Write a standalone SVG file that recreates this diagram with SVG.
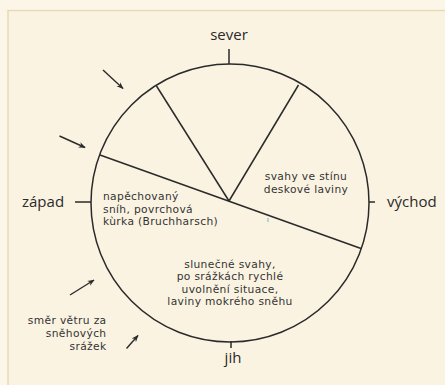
<svg xmlns="http://www.w3.org/2000/svg" width="445" height="385" viewBox="0 0 445 385">
<defs>
<marker id="ah" viewBox="0 0 10 10" refX="9" refY="5" markerWidth="7" markerHeight="7" markerUnits="userSpaceOnUse" orient="auto">
<path d="M0,1 L10,5 L0,9 L3,5 Z" fill="#2a2a2a"/>
</marker>
<style>
.ln{stroke:#2a2a2a;stroke-width:1.5;fill:none}
.ar{stroke:#2a2a2a;stroke-width:1.4;fill:none;marker-end:url(#ah)}
.lbl{font-family:"Open Sans","DejaVu Sans",sans-serif;font-size:15px;fill:#2a2a2a}
.txt{font-family:"DejaVu Sans","Open Sans",sans-serif;font-size:10.7px;letter-spacing:0.35px;fill:#333}
</style>
</defs>
<rect x="0" y="0" width="445" height="385" fill="#fcf6e8"/>
<rect x="8" y="10.5" width="445" height="385" fill="#fbf3e2" stroke="#ead9b6" stroke-width="1.5"/>
<g id="circle">
<circle class="ln" cx="230" cy="203" r="139"/>
</g>
<g id="connectors">
<line class="ln" x1="100" y1="155" x2="361" y2="248.5"/>
<line class="ln" x1="229" y1="201" x2="156.5" y2="86"/>
<line class="ln" x1="229" y1="201" x2="298.5" y2="85"/>
<line class="ln" x1="229" y1="49" x2="229" y2="64"/>
<line class="ln" x1="75" y1="202" x2="91" y2="202"/>
<line class="ln" x1="369" y1="202" x2="375" y2="202"/>
<line class="ln" x1="231" y1="341" x2="231" y2="348"/>
<line class="ar" x1="103" y1="70" x2="123" y2="88.5"/>
<line class="ar" x1="59.5" y1="136" x2="85" y2="147.5"/>
<line class="ar" x1="70" y1="295" x2="94" y2="280"/>
<line class="ar" x1="126.5" y1="348.5" x2="138" y2="335.5"/>
<line x1="268" y1="218" x2="268" y2="222" stroke="#6fb5c8" stroke-width="1"/>
</g>
<g id="sever"><text class="lbl" x="229" y="40" text-anchor="middle">sever</text></g>
<g id="zapad"><text class="lbl" x="22" y="207">západ</text></g>
<g id="vychod"><text class="lbl" x="387" y="207">východ</text></g>
<g id="jih"><text class="lbl" x="233" y="363" text-anchor="middle">jih</text></g>
<g id="stin">
<text class="txt" x="306" y="180" text-anchor="middle">svahy ve stínu</text>
<text class="txt" x="306" y="193" text-anchor="middle">deskové laviny</text>
</g>
<g id="zapadni">
<text class="txt" x="103" y="200">napěchovaný</text>
<text class="txt" x="103" y="212.6">sníh, povrchová</text>
<text class="txt" x="103" y="225.2">kùrka (Bruchharsch)</text>
</g>
<g id="jizni">
<text class="txt" x="230" y="267.5" text-anchor="middle">slunečné svahy,</text>
<text class="txt" x="230" y="280.1" text-anchor="middle">po srážkách rychlé</text>
<text class="txt" x="230" y="292.7" text-anchor="middle">uvolnění situace,</text>
<text class="txt" x="230" y="305.3" text-anchor="middle">laviny mokrého sněhu</text>
</g>
<g id="vitr">
<text class="txt" x="106.5" y="324.4" text-anchor="end">směr větru za</text>
<text class="txt" x="106.5" y="337" text-anchor="end">sněhových</text>
<text class="txt" x="106.5" y="349.6" text-anchor="end">srážek</text>
</g>
</svg>
